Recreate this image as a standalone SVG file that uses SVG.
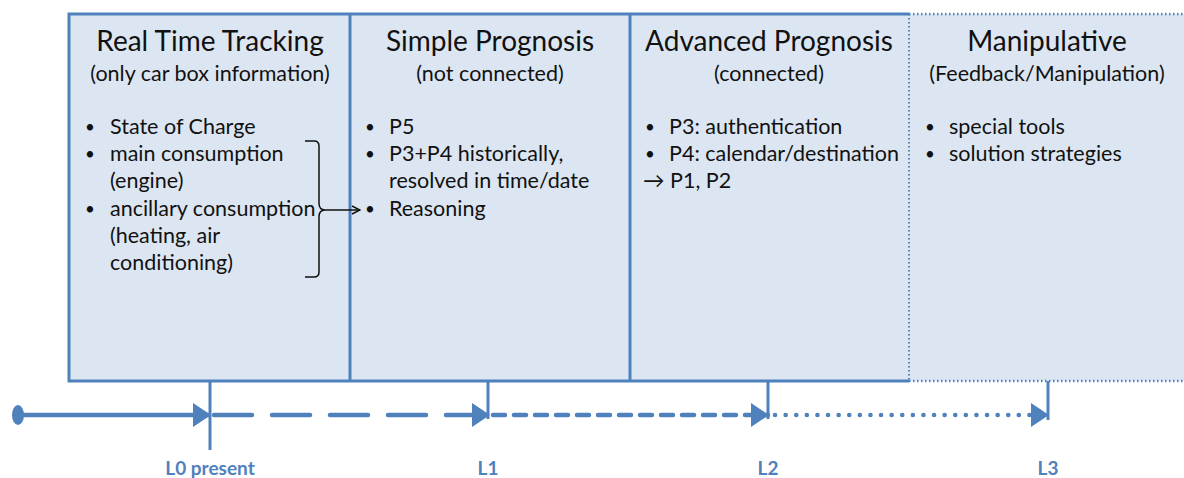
<svg xmlns="http://www.w3.org/2000/svg" width="1184" height="478" viewBox="0 0 1184 478">
  <style>
    .fill { fill: #dce6f2; stroke: none; }
    .solid { fill: none; stroke: #4f81bd; stroke-width: 3; }
    .dotted { fill: none; stroke: #4f81bd; stroke-width: 2.5; stroke-dasharray: 1.5 2.5; }
    .title { font-family: Lato, "Liberation Sans", sans-serif; font-size: 28px; fill: #111; text-anchor: middle; }
    .sub { font-family: Lato, "Liberation Sans", sans-serif; font-size: 21.5px; fill: #111; text-anchor: middle; }
    .body { font-family: Lato, "Liberation Sans", sans-serif; font-size: 21.5px; fill: #111; }
    .bullet { font-family: Lato, "Liberation Sans", sans-serif; font-size: 17px; fill: #111; }
    .lvl { font-family: Lato, "Liberation Sans", sans-serif; font-size: 19px; font-weight: bold; fill: #4f81bd; text-anchor: middle; }
    .axis { fill: none; stroke: #4f81bd; stroke-width: 4.5; }
    .tick { fill: none; stroke: #4f81bd; stroke-width: 3; }
    .brace { fill: none; stroke: #111; stroke-width: 1.5; }
  </style>
  <defs>
    <marker id="tri" viewBox="0 0 18 24" refX="17" refY="12" markerWidth="18" markerHeight="24" markerUnits="userSpaceOnUse" orient="auto">
      <path d="M0,0 L18,12 L0,24 Z" fill="#4f81bd"/>
    </marker>
    <marker id="open" viewBox="0 0 10 10" refX="9" refY="5" markerWidth="10" markerHeight="10" markerUnits="userSpaceOnUse" orient="auto">
      <path d="M1,1 L9,5 L1,9" fill="none" stroke="#111" stroke-width="1.5"/>
    </marker>
  </defs>

  <!-- stage columns -->
  <g id="real-time-tracking">
    <rect class="fill" x="69" y="14" width="281" height="367"/>
    <text class="title" x="210" y="51">Real Time Tracking</text>
    <text class="sub" x="210" y="81">(only car box information)</text>
    <g class="bullet">
      <text x="85" y="133">•</text>
      <text x="85" y="160">•</text>
      <text x="85" y="215">•</text>
    </g>
    <g class="body">
      <text x="110" y="134">State of Charge</text>
      <text x="110" y="161">main consumption</text>
      <text x="110" y="188">(engine)</text>
      <text x="110" y="216">ancillary consumption</text>
      <text x="110" y="243">(heating, air</text>
      <text x="110" y="270">conditioning)</text>
    </g>
    <path class="brace" d="M305,141 H314 Q319,141 319,146 V203 Q319,210 325,210 Q319,210 319,217 V272 Q319,277 314,277 H305"/>
  </g>

  <g id="simple-prognosis">
    <rect class="fill" x="350" y="14" width="280" height="367"/>
    <text class="title" x="490" y="51">Simple Prognosis</text>
    <text class="sub" x="490" y="81">(not connected)</text>
    <g class="bullet">
      <text x="365" y="133">•</text>
      <text x="365" y="160">•</text>
      <text x="365" y="215">•</text>
    </g>
    <g class="body">
      <text x="389" y="134">P5</text>
      <text x="389" y="161">P3+P4 historically,</text>
      <text x="389" y="188">resolved in time/date</text>
      <text x="389" y="216">Reasoning</text>
    </g>
  </g>

  <g id="advanced-prognosis">
    <rect class="fill" x="630" y="14" width="279" height="367"/>
    <text class="title" x="769" y="51">Advanced Prognosis</text>
    <text class="sub" x="769" y="81">(connected)</text>
    <g class="bullet">
      <text x="645" y="133">•</text>
      <text x="645" y="160">•</text>
    </g>
    <g class="body">
      <text x="669" y="134">P3: authentication</text>
      <text x="669" y="161">P4: calendar/destination</text>
      <text x="643" y="188">→ P1, P2</text>
    </g>
  </g>

  <g id="manipulative">
    <rect class="fill" x="909" y="14" width="277" height="367"/>
    <text class="title" x="1047" y="51">Manipulative</text>
    <text class="sub" x="1047" y="81">(Feedback/Manipulation)</text>
    <g class="bullet">
      <text x="925" y="133">•</text>
      <text x="925" y="160">•</text>
    </g>
    <g class="body">
      <text x="949" y="134">special tools</text>
      <text x="949" y="161">solution strategies</text>
    </g>
  </g>

  <!-- column borders -->
  <g id="borders">
    <path class="solid" d="M909,14 H69 V381 H909"/>
    <line class="solid" x1="350" y1="14" x2="350" y2="381"/>
    <line class="solid" x1="630" y1="14" x2="630" y2="381"/>
    <path class="dotted" d="M909,14 H1186 M909,381 H1186"/>
    <line class="dotted" x1="909" y1="14" x2="909" y2="381" style="stroke-width:2"/>
  </g>

  <!-- level milestones -->
  <g id="level-l0">
    <line class="tick" x1="210" y1="381" x2="210" y2="450"/>
    <text class="lvl" x="210" y="475">L0 present</text>
  </g>
  <g id="level-l1">
    <line class="tick" x1="488" y1="381" x2="488" y2="419"/>
    <text class="lvl" x="488" y="475">L1</text>
  </g>
  <g id="level-l2">
    <line class="tick" x1="768" y1="381" x2="768" y2="419"/>
    <text class="lvl" x="768" y="475">L2</text>
  </g>
  <g id="level-l3">
    <line class="tick" x1="1048" y1="381" x2="1048" y2="420"/>
    <text class="lvl" x="1048" y="475">L3</text>
  </g>

  <!-- connectors -->
  <g id="connectors">
    <ellipse cx="18" cy="415" rx="6" ry="10" fill="#4f81bd"/>
    <line class="axis" x1="18" y1="415" x2="210" y2="415" stroke-width="4" marker-end="url(#tri)"/>
    <line class="axis" x1="214" y1="415" x2="489" y2="415" stroke-dasharray="38 20" stroke-linecap="round" marker-end="url(#tri)"/>
    <line class="axis" x1="493" y1="415" x2="768" y2="415" stroke-dasharray="12 9" stroke-linecap="round" marker-end="url(#tri)"/>
    <line class="axis" x1="775" y1="415" x2="1048" y2="415" stroke-width="6" stroke-dasharray="0.1 10.5" stroke-linecap="round" marker-end="url(#tri)"/>
    <line class="brace" x1="325" y1="210" x2="360" y2="210" marker-end="url(#open)"/>
  </g>
</svg>
